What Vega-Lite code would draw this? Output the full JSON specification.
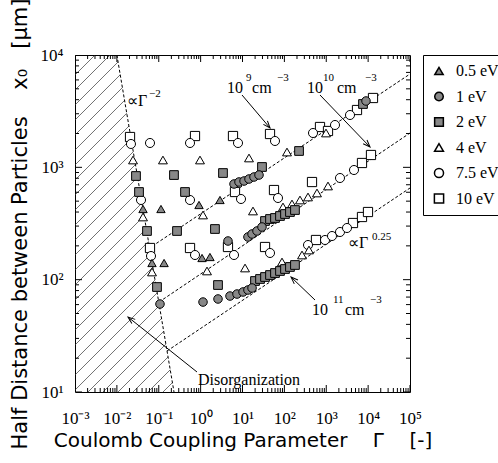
{
"$schema": "https://vega.github.io/schema/vega-lite/v6.json",
"width": 335, "height": 337,
"autosize": {"type": "none"},
"padding": {"left": 75, "top": 55, "right": 88, "bottom": 71},
"background": "white",
"config": {"view": {"stroke": "black", "strokeWidth": 1}, "axis": {"domain": false, "grid": false, "ticks": false, "labelColor": "black", "titleColor": "black"}},
"datasets": {
"xt": [
{"G":0.001,"k":"maj"},{"G":0.01,"k":"maj"},{"G":0.1,"k":"maj"},{"G":1,"k":"maj"},{"G":10,"k":"maj"},{"G":100,"k":"maj"},{"G":1000,"k":"maj"},{"G":10000,"k":"maj"},{"G":100000,"k":"maj"},
{"G":0.002,"k":"min"},{"G":0.003,"k":"min"},{"G":0.004,"k":"min"},{"G":0.005,"k":"min"},{"G":0.006,"k":"min"},{"G":0.007,"k":"min"},{"G":0.008,"k":"min"},{"G":0.009,"k":"min"},
{"G":0.02,"k":"min"},{"G":0.03,"k":"min"},{"G":0.04,"k":"min"},{"G":0.05,"k":"min"},{"G":0.06,"k":"min"},{"G":0.07,"k":"min"},{"G":0.08,"k":"min"},{"G":0.09,"k":"min"},
{"G":0.2,"k":"min"},{"G":0.3,"k":"min"},{"G":0.4,"k":"min"},{"G":0.5,"k":"min"},{"G":0.6,"k":"min"},{"G":0.7,"k":"min"},{"G":0.8,"k":"min"},{"G":0.9,"k":"min"},
{"G":2,"k":"min"},{"G":3,"k":"min"},{"G":4,"k":"min"},{"G":5,"k":"min"},{"G":6,"k":"min"},{"G":7,"k":"min"},{"G":8,"k":"min"},{"G":9,"k":"min"},
{"G":20,"k":"min"},{"G":30,"k":"min"},{"G":40,"k":"min"},{"G":50,"k":"min"},{"G":60,"k":"min"},{"G":70,"k":"min"},{"G":80,"k":"min"},{"G":90,"k":"min"},
{"G":200,"k":"min"},{"G":300,"k":"min"},{"G":400,"k":"min"},{"G":500,"k":"min"},{"G":600,"k":"min"},{"G":700,"k":"min"},{"G":800,"k":"min"},{"G":900,"k":"min"},
{"G":2000,"k":"min"},{"G":3000,"k":"min"},{"G":4000,"k":"min"},{"G":5000,"k":"min"},{"G":6000,"k":"min"},{"G":7000,"k":"min"},{"G":8000,"k":"min"},{"G":9000,"k":"min"},
{"G":20000,"k":"min"},{"G":30000,"k":"min"},{"G":40000,"k":"min"},{"G":50000,"k":"min"},{"G":60000,"k":"min"},{"G":70000,"k":"min"},{"G":80000,"k":"min"},{"G":90000,"k":"min"}
],
"yt": [
{"X":10,"k":"maj"},{"X":100,"k":"maj"},{"X":1000,"k":"maj"},{"X":10000,"k":"maj"},
{"X":20,"k":"min"},{"X":30,"k":"min"},{"X":40,"k":"min"},{"X":50,"k":"min"},{"X":60,"k":"min"},{"X":70,"k":"min"},{"X":80,"k":"min"},{"X":90,"k":"min"},
{"X":200,"k":"min"},{"X":300,"k":"min"},{"X":400,"k":"min"},{"X":500,"k":"min"},{"X":600,"k":"min"},{"X":700,"k":"min"},{"X":800,"k":"min"},{"X":900,"k":"min"},
{"X":2000,"k":"min"},{"X":3000,"k":"min"},{"X":4000,"k":"min"},{"X":5000,"k":"min"},{"X":6000,"k":"min"},{"X":7000,"k":"min"},{"X":8000,"k":"min"},{"X":9000,"k":"min"}
],
"hatch": [
{"G":0.001,"X":6637,"G2":0.003003,"X2":10000},
{"G":0.001,"X":4880,"G2":0.006852,"X2":10000},
{"G":0.001,"X":3589,"G2":0.01073,"X2":8692},
{"G":0.001,"X":2638,"G2":0.01209,"X2":6682},
{"G":0.001,"X":1940,"G2":0.01362,"X2":5136},
{"G":0.001,"X":1427,"G2":0.01535,"X2":3949},
{"G":0.001,"X":1049,"G2":0.0173,"X2":3035},
{"G":0.001,"X":771,"G2":0.01949,"X2":2333},
{"G":0.001,"X":567,"G2":0.02196,"X2":1794},
{"G":0.001,"X":417,"G2":0.02474,"X2":1379},
{"G":0.001,"X":306.6,"G2":0.02788,"X2":1060},
{"G":0.001,"X":225.5,"G2":0.03141,"X2":815},
{"G":0.001,"X":165.8,"G2":0.03539,"X2":626.6},
{"G":0.001,"X":121.9,"G2":0.03987,"X2":481.7},
{"G":0.001,"X":89.66,"G2":0.04493,"X2":370.3},
{"G":0.001,"X":65.9,"G2":0.05063,"X2":284.7},
{"G":0.001,"X":48.46,"G2":0.05705,"X2":218.9},
{"G":0.001,"X":35.64,"G2":0.06427,"X2":168.2},
{"G":0.001,"X":26.2,"G2":0.07242,"X2":129.3},
{"G":0.001,"X":19.27,"G2":0.08158,"X2":99.4},
{"G":0.001,"X":14.17,"G2":0.09194,"X2":76.4},
{"G":0.001,"X":10.41,"G2":0.1036,"X2":58.75},
{"G":0.002044,"X":10,"G2":0.1167,"X2":45.16},
{"G":0.004665,"X":10,"G2":0.1315,"X2":34.72},
{"G":0.01064,"X":10,"G2":0.1481,"X2":26.69},
{"G":0.02427,"X":10,"G2":0.1669,"X2":20.51},
{"G":0.05537,"X":10,"G2":0.1881,"X2":15.77},
{"G":0.1263,"X":10,"G2":0.2119,"X2":12.12}
],
"lines": [
{"id":"b","G":0.01,"X":10000},{"id":"b","G":0.2313,"X":10},
{"id":"t","G":0.05537,"X":187.5},{"id":"t","G":100000,"X":6775},
{"id":"m","G":0.1014,"X":63.2},{"id":"m","G":100000,"X":2021},
{"id":"l","G":0.1574,"X":23.17},{"id":"l","G":100000,"X":654.6}
],
"arrows": [
{"G":9.73,"X":4405,"G2":45.4,"X2":2239,"a":139.7},
{"G":709,"X":4405,"G2":11090,"X2":1517,"a":136.1},
{"G":539,"X":65.9,"G2":144,"X2":105.6,"a":313.8},
{"G":0.819,"X":15.07,"G2":0.01844,"X2":46.5,"a":308.6}
],
"pts": [
{"e":"10 eV","G":0.0206,"X":1862},{"e":"10 eV","G":0.734,"X":1900},{"e":"10 eV","G":5.93,"X":1900},{"e":"10 eV","G":45.4,"X":1980},{"e":"10 eV","G":0.0618,"X":191.4},{"e":"10 eV","G":0.558,"X":191.4},{"e":"10 eV","G":4.5,"X":195.4},{"e":"10 eV","G":34.5,"X":195.4},{"e":"10 eV","G":6.62,"X":603},{"e":"10 eV","G":56.5,"X":628},{"e":"10 eV","G":709,"X":2286},{"e":"10 eV","G":1101,"X":2106},{"e":"10 eV","G":5425,"X":3238},{"e":"10 eV","G":13070,"X":4142},{"e":"10 eV","G":457,"X":740},{"e":"10 eV","G":7140,"X":1093},{"e":"10 eV","G":11710,"X":1288},{"e":"10 eV","G":569,"X":225.5},{"e":"10 eV","G":4353,"X":319.4},{"e":"10 eV","G":7140,"X":361.3},{"e":"10 eV","G":9931,"X":400.2},
{"e":"7.5 eV","G":0.0217,"X":1614},{"e":"7.5 eV","G":0.0618,"X":1647},{"e":"7.5 eV","G":0.558,"X":1647},{"e":"7.5 eV","G":7.81,"X":1647},{"e":"7.5 eV","G":59.7,"X":1716},{"e":"7.5 eV","G":0.0377,"X":511.9},{"e":"7.5 eV","G":0.558,"X":511.9},{"e":"7.5 eV","G":9.21,"X":522.5},{"e":"7.5 eV","G":70.4,"X":533.3},{"e":"7.5 eV","G":0.0653,"X":162.4},{"e":"7.5 eV","G":0.734,"X":165.8},{"e":"7.5 eV","G":6.27,"X":165.8},{"e":"7.5 eV","G":45.4,"X":172.8},{"e":"7.5 eV","G":483,"X":2021},{"e":"7.5 eV","G":1618,"X":2382},{"e":"7.5 eV","G":3692,"X":2923},{"e":"7.5 eV","G":2130,"X":803.5},{"e":"7.5 eV","G":4600,"X":946.6},{"e":"7.5 eV","G":367,"X":203.5},{"e":"7.5 eV","G":934,"X":225.5},{"e":"7.5 eV","G":1372,"X":244.7},{"e":"7.5 eV","G":2130,"X":265.7},{"e":"7.5 eV","G":3130,"X":288.4},
{"e":"4 eV","G":0.0243,"X":1162},{"e":"4 eV","G":0.126,"X":1162},{"e":"4 eV","G":0.966,"X":1162},{"e":"4 eV","G":14.3,"X":1211},{"e":"4 eV","G":115.5,"X":1369},{"e":"4 eV","G":0.0421,"X":361.3},{"e":"4 eV","G":1.14,"X":376.4},{"e":"4 eV","G":17.8,"X":408.5},{"e":"4 eV","G":92.7,"X":443.6},{"e":"4 eV","G":152,"X":471.7},{"e":"4 eV","G":236,"X":511.9},{"e":"4 eV","G":367,"X":544.4},{"e":"4 eV","G":601,"X":591},{"e":"4 eV","G":1101,"X":682},{"e":"4 eV","G":0.069,"X":117},{"e":"4 eV","G":1.42,"X":119.5},{"e":"4 eV","G":11.5,"X":127},{"e":"4 eV","G":87.8,"X":143.6},{"e":"4 eV","G":264,"X":165.8},{"e":"4 eV","G":387,"X":183.7},{"e":"4 eV","G":986,"X":2021},
{"e":"2 eV","G":0.0286,"X":837},{"e":"2 eV","G":0.231,"X":854},{"e":"2 eV","G":3.42,"X":890},{"e":"2 eV","G":29.2,"X":1007},{"e":"2 eV","G":224,"X":1398},{"e":"2 eV","G":0.0338,"X":603},{"e":"2 eV","G":0.424,"X":603},{"e":"2 eV","G":0.0524,"X":271.2},{"e":"2 eV","G":0.273,"X":271.2},{"e":"2 eV","G":2.2,"X":282.5},{"e":"2 eV","G":0.0908,"X":86},{"e":"2 eV","G":2.6,"X":89.6},{"e":"2 eV","G":19.9,"X":97.3},{"e":"2 eV","G":26.2,"X":101.4},{"e":"2 eV","G":34.5,"X":105.6},{"e":"2 eV","G":45.4,"X":110},{"e":"2 eV","G":59.7,"X":114.6},{"e":"2 eV","G":78.6,"X":119.5},{"e":"2 eV","G":103.5,"X":124.4},{"e":"2 eV","G":136,"X":129.7},{"e":"2 eV","G":179,"X":135.1},{"e":"2 eV","G":34.5,"X":332.8},{"e":"2 eV","G":45.4,"X":346.7},{"e":"2 eV","G":59.7,"X":354},{"e":"2 eV","G":78.6,"X":368.8},{"e":"2 eV","G":103.5,"X":384.1},{"e":"2 eV","G":136,"X":400.2},{"e":"2 eV","G":179,"X":416.9},{"e":"2 eV","G":7543,"X":3662},
{"e":"1 eV","G":0.107,"X":60.7},{"e":"1 eV","G":4.5,"X":220.9},{"e":"1 eV","G":6.27,"X":710.5},{"e":"1 eV","G":8.25,"X":740.3},{"e":"1 eV","G":10.9,"X":755.6},{"e":"1 eV","G":14.3,"X":787.2},{"e":"1 eV","G":18.8,"X":820.2},{"e":"1 eV","G":24.8,"X":854.4},{"e":"1 eV","G":13.5,"X":239.8},{"e":"1 eV","G":16.9,"X":255},{"e":"1 eV","G":22.2,"X":271.2},{"e":"1 eV","G":29.2,"X":294.3},{"e":"1 eV","G":1.14,"X":63.2},{"e":"1 eV","G":2.6,"X":67.3},{"e":"1 eV","G":5.03,"X":71.5},{"e":"1 eV","G":7.39,"X":74.5},{"e":"1 eV","G":10.3,"X":77.7},{"e":"1 eV","G":13.5,"X":80.9},{"e":"1 eV","G":16.9,"X":84.3},{"e":"1 eV","G":8897,"X":3895},
{"e":"0.5 eV","G":0.0421,"X":425.6},{"e":"0.5 eV","G":0.113,"X":425.6},{"e":"0.5 eV","G":0.915,"X":462.1},{"e":"0.5 eV","G":2.9,"X":511.9},{"e":"0.5 eV","G":0.069,"X":140.7},{"e":"0.5 eV","G":0.134,"X":140.7},{"e":"0.5 eV","G":1.08,"X":155.9},{"e":"0.5 eV","G":1.67,"X":159.1}
],
"txt": [
{"t":"∝Γ","G":0.01745,"X":3895},
{"t":"10","G":4.26,"X":5083},
{"t":"cm","G":16.9,"X":5083},
{"t":"10","G":347,"X":5083},
{"t":"cm","G":1806,"X":5083},
{"t":"10","G":457,"X":53.7},
{"t":"cm","G":2804,"X":53.7},
{"t":"∝Γ","G":3307,"X":212},
{"t":"Disorganization","G":0.866,"X":12.79}
],
"sup": [
{"t":"−2","G":0.0585,"X":4496},
{"t":"9","G":12.1,"X":6240},
{"t":"−3","G":66.7,"X":6240},
{"t":"10","G":836,"X":6240},
{"t":"−3","G":8422,"X":6240},
{"t":"11","G":1449,"X":65.9},
{"t":"−3","G":11090,"X":65.9},
{"t":"0.25","G":12380,"X":239.8}
]
},
"layer": [
{
"data": {"name": "hatch"},
"mark": {"type": "rule", "stroke": "#333333", "strokeWidth": 0.7},
"encoding": {
"x": {"field": "G", "type": "quantitative", "scale": {"type": "log", "domain": [0.001, 100000]},
 "axis": {"orient": "bottom", "values": [0.001,0.01,0.1,1,10,100,1000,10000,100000], "ticks": false, "grid": false, "domain": false, "labelPadding": 18, "labelFont": "Liberation Serif", "labelFontSize": 17, "labelFlush": false, "labelOverlap": false,
 "labelExpr": "datum.value < 0.002 ? '10⁻³' : datum.value < 0.02 ? '10⁻²' : datum.value < 0.2 ? '10⁻¹' : datum.value < 2 ? '10⁰' : datum.value < 20 ? '10¹' : datum.value < 200 ? '10²' : datum.value < 2000 ? '10³' : datum.value < 20000 ? '10⁴' : '10⁵'",
 "title": "Coulomb Coupling Parameter\u00a0\u00a0\u00a0\u00a0Γ\u00a0\u00a0\u00a0\u00a0[-]", "titleFont": "DejaVu Sans", "titleFontSize": 20, "titleFontWeight": "normal", "titleX": 167.5, "titleY": 48, "titleBaseline": "middle", "titleAlign": "center"}},
"y": {"field": "X", "type": "quantitative", "scale": {"type": "log", "domain": [10, 10000]},
 "axis": {"orient": "left", "values": [10,100,1000,10000], "ticks": false, "grid": false, "domain": false, "labelPadding": 12, "labelFont": "Liberation Serif", "labelFontSize": 17, "labelOverlap": false, "labelFlush": false,
 "labelExpr": "datum.value < 20 ? '10¹' : datum.value < 200 ? '10²' : datum.value < 2000 ? '10³' : '10⁴'",
 "title": "Half Distance between Particles\u00a0\u00a0\u00a0\u00a0x₀\u00a0\u00a0\u00a0[μm]", "titleFont": "DejaVu Sans", "titleFontSize": 21, "titleFontWeight": "normal", "titleX": -55, "titleY": 168.5, "titleAngle": -90, "titleBaseline": "middle", "titleAlign": "center"}},
"x2": {"field": "G2"},
"y2": {"field": "X2"}
}
},
{
"data": {"name": "xt"},
"transform": [{"filter": "datum.k == 'maj'"}],
"mark": {"type": "tick", "orient": "vertical", "clip": true, "color": "black", "thickness": 1, "opacity": 1, "size": 14},
"encoding": {
"x": {"field": "G", "type": "quantitative", "scale": {"type": "log", "domain": [0.001, 100000]}},
"y": {"datum": 10, "type": "quantitative", "scale": {"type": "log", "domain": [10, 10000]}}
}
},
{
"data": {"name": "xt"},
"transform": [{"filter": "datum.k == 'min'"}],
"mark": {"type": "tick", "orient": "vertical", "clip": true, "color": "black", "thickness": 1, "opacity": 1, "size": 8},
"encoding": {
"x": {"field": "G", "type": "quantitative", "scale": {"type": "log", "domain": [0.001, 100000]}},
"y": {"datum": 10, "type": "quantitative", "scale": {"type": "log", "domain": [10, 10000]}}
}
},
{
"data": {"name": "xt"},
"transform": [{"filter": "datum.k == 'maj'"}],
"mark": {"type": "tick", "orient": "vertical", "clip": true, "color": "black", "thickness": 1, "opacity": 1, "size": 14},
"encoding": {
"x": {"field": "G", "type": "quantitative", "scale": {"type": "log", "domain": [0.001, 100000]}},
"y": {"datum": 10000, "type": "quantitative", "scale": {"type": "log", "domain": [10, 10000]}}
}
},
{
"data": {"name": "xt"},
"transform": [{"filter": "datum.k == 'min'"}],
"mark": {"type": "tick", "orient": "vertical", "clip": true, "color": "black", "thickness": 1, "opacity": 1, "size": 8},
"encoding": {
"x": {"field": "G", "type": "quantitative", "scale": {"type": "log", "domain": [0.001, 100000]}},
"y": {"datum": 10000, "type": "quantitative", "scale": {"type": "log", "domain": [10, 10000]}}
}
},
{
"data": {"name": "yt"},
"transform": [{"filter": "datum.k == 'maj'"}],
"mark": {"type": "tick", "orient": "horizontal", "clip": true, "color": "black", "thickness": 1, "opacity": 1, "size": 14},
"encoding": {
"y": {"field": "X", "type": "quantitative", "scale": {"type": "log", "domain": [10, 10000]}},
"x": {"datum": 0.001, "type": "quantitative", "scale": {"type": "log", "domain": [0.001, 100000]}}
}
},
{
"data": {"name": "yt"},
"transform": [{"filter": "datum.k == 'min'"}],
"mark": {"type": "tick", "orient": "horizontal", "clip": true, "color": "black", "thickness": 1, "opacity": 1, "size": 8},
"encoding": {
"y": {"field": "X", "type": "quantitative", "scale": {"type": "log", "domain": [10, 10000]}},
"x": {"datum": 0.001, "type": "quantitative", "scale": {"type": "log", "domain": [0.001, 100000]}}
}
},
{
"data": {"name": "yt"},
"transform": [{"filter": "datum.k == 'maj'"}],
"mark": {"type": "tick", "orient": "horizontal", "clip": true, "color": "black", "thickness": 1, "opacity": 1, "size": 14},
"encoding": {
"y": {"field": "X", "type": "quantitative", "scale": {"type": "log", "domain": [10, 10000]}},
"x": {"datum": 100000, "type": "quantitative", "scale": {"type": "log", "domain": [0.001, 100000]}}
}
},
{
"data": {"name": "yt"},
"transform": [{"filter": "datum.k == 'min'"}],
"mark": {"type": "tick", "orient": "horizontal", "clip": true, "color": "black", "thickness": 1, "opacity": 1, "size": 8},
"encoding": {
"y": {"field": "X", "type": "quantitative", "scale": {"type": "log", "domain": [10, 10000]}},
"x": {"datum": 100000, "type": "quantitative", "scale": {"type": "log", "domain": [0.001, 100000]}}
}
},
{
"data": {"name": "lines"},
"mark": {"type": "line", "stroke": "black", "strokeWidth": 1, "strokeDash": [3, 2]},
"encoding": {
"x": {"field": "G", "type": "quantitative", "scale": {"type": "log", "domain": [0.001, 100000]}},
"y": {"field": "X", "type": "quantitative", "scale": {"type": "log", "domain": [10, 10000]}},
"detail": {"field": "id"}
}
},
{
"data": {"name": "arrows"},
"mark": {"type": "rule", "stroke": "black", "strokeWidth": 1},
"encoding": {
"x": {"field": "G", "type": "quantitative", "scale": {"type": "log", "domain": [0.001, 100000]}},
"y": {"field": "X", "type": "quantitative", "scale": {"type": "log", "domain": [10, 10000]}},
"x2": {"field": "G2"},
"y2": {"field": "X2"}
}
},
{
"data": {"name": "arrows"},
"mark": {"type": "point", "shape": "M-0.45,1.2L0,0L0.45,1.2", "filled": false, "stroke": "black", "strokeWidth": 1, "size": 140, "opacity": 1},
"encoding": {
"x": {"field": "G2", "type": "quantitative", "scale": {"type": "log", "domain": [0.001, 100000]}},
"y": {"field": "X2", "type": "quantitative", "scale": {"type": "log", "domain": [10, 10000]}},
"angle": {"field": "a", "type": "quantitative", "scale": null}
}
},
{
"data": {"name": "pts"},
"mark": {"type": "point", "filled": true, "stroke": "black", "strokeWidth": 1, "opacity": 1},
"encoding": {
"x": {"field": "G", "type": "quantitative", "scale": {"type": "log", "domain": [0.001, 100000]}},
"y": {"field": "X", "type": "quantitative", "scale": {"type": "log", "domain": [10, 10000]}},
"shape": {"field": "e", "type": "ordinal", "scale": {"domain": ["0.5 eV","1 eV","2 eV","4 eV","7.5 eV","10 eV"], "range": ["triangle-up","circle","square","triangle-up","circle","square"]},
 "legend": {"title": null, "orient": "right", "offset": 11, "padding": 8, "rowPadding": 9.5, "strokeColor": "black", "labelFont": "Liberation Serif", "labelFontSize": 16, "labelOffset": 9, "labelColor": "black", "encode": {"symbols": {"update": {"stroke": {"value": "black"}, "strokeWidth": {"value": 1}}}}}},
"fill": {"field": "e", "type": "ordinal", "scale": {"domain": ["0.5 eV","1 eV","2 eV","4 eV","7.5 eV","10 eV"], "range": ["#888888","#888888","#888888","white","white","white"]},
 "legend": {"title": null, "orient": "right", "offset": 11, "padding": 8, "rowPadding": 9.5, "strokeColor": "black", "labelFont": "Liberation Serif", "labelFontSize": 16, "labelOffset": 9, "labelColor": "black", "encode": {"symbols": {"update": {"stroke": {"value": "black"}, "strokeWidth": {"value": 1}}}}}},
"size": {"field": "e", "type": "ordinal", "scale": {"domain": ["0.5 eV","1 eV","2 eV","4 eV","7.5 eV","10 eV"], "range": [70,85,75,110,110,110]},
 "legend": {"title": null, "orient": "right", "offset": 11, "padding": 8, "rowPadding": 9.5, "strokeColor": "black", "labelFont": "Liberation Serif", "labelFontSize": 16, "labelOffset": 9, "labelColor": "black", "encode": {"symbols": {"update": {"stroke": {"value": "black"}, "strokeWidth": {"value": 1}}}}}}
}
},
{
"data": {"name": "txt"},
"mark": {"type": "text", "align": "left", "baseline": "middle", "font": "Liberation Serif", "fontSize": 16, "color": "black"},
"encoding": {
"x": {"field": "G", "type": "quantitative", "scale": {"type": "log", "domain": [0.001, 100000]}},
"y": {"field": "X", "type": "quantitative", "scale": {"type": "log", "domain": [10, 10000]}},
"text": {"field": "t"}
}
},
{
"data": {"name": "sup"},
"mark": {"type": "text", "align": "left", "baseline": "middle", "font": "Liberation Serif", "fontSize": 11, "color": "black"},
"encoding": {
"x": {"field": "G", "type": "quantitative", "scale": {"type": "log", "domain": [0.001, 100000]}},
"y": {"field": "X", "type": "quantitative", "scale": {"type": "log", "domain": [10, 10000]}},
"text": {"field": "t"}
}
}
]
}
